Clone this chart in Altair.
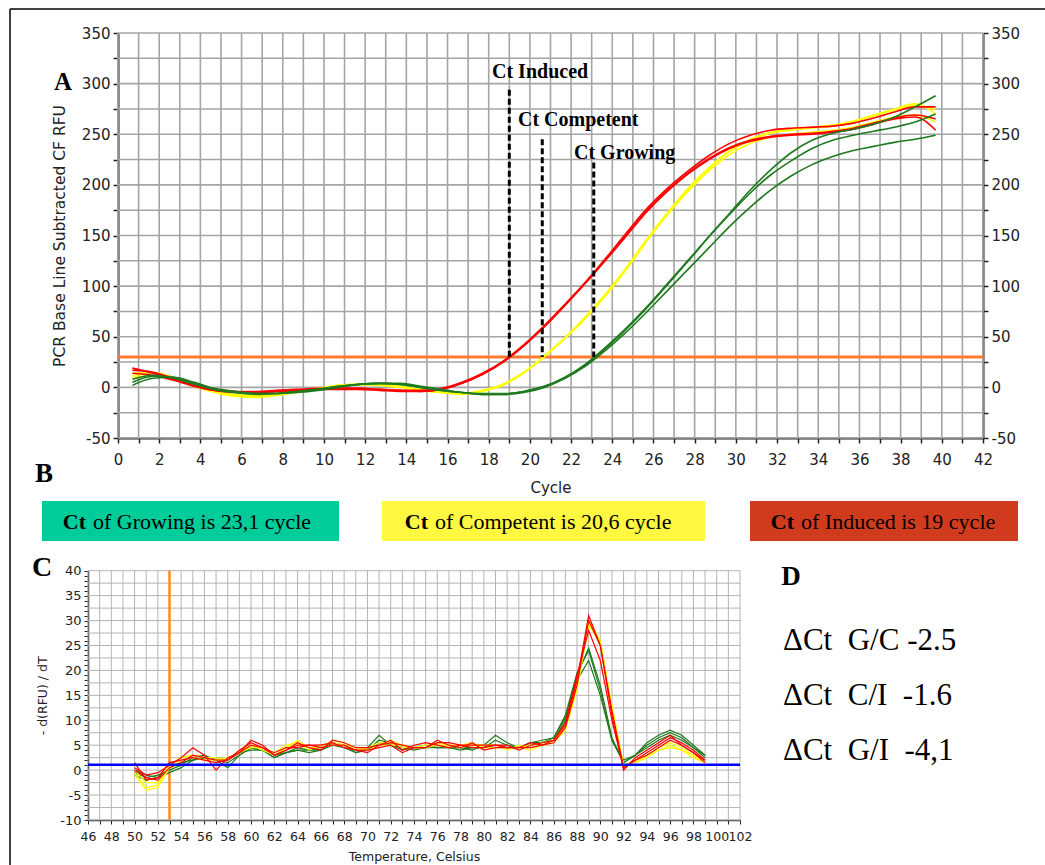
import altair as alt
import pandas as pd

# ---------------- Panel A : amplification curves ----------------
cycles = [0.7, 1.7, 2.7, 3.7, 4.7, 5.7, 6.7, 7.7, 8.7, 9.7,
          10.7, 11.7, 12.7, 13.7, 14.7, 15.7, 16.7, 17.7, 18.7, 19.7,
          20.7, 21.7, 22.7, 23.7, 24.7, 25.7, 26.7, 27.7, 28.7, 29.7,
          30.7, 31.7, 32.7, 33.7, 34.7, 35.7, 36.7, 37.7, 38.7, 39.7]

induced_1 = [19, 14, 8, 2, -3, -4, -4, -3, -2, -1, -1, -1, -2, -3, -3, -1, 5, 14, 26, 42,
             61, 82, 104, 128, 153, 177, 197, 214, 229, 241, 249, 254, 256, 257, 258, 261, 266, 272, 277, 277]
induced_2 = [14, 12, 7, 1, -3, -5, -5, -4, -3, -2, -1, -1, -2, -3, -4, -2, 4, 13, 25, 41,
             60, 81, 103, 127, 151, 175, 195, 212, 226, 237, 244, 248, 250, 251, 253, 256, 261, 266, 269, 265]
induced_3 = [17, 15, 9, 2, -2, -4, -5, -4, -3, -2, -2, -2, -3, -4, -4, -2, 4, 13, 25, 41,
             60, 81, 103, 126, 150, 174, 194, 211, 225, 236, 243, 247, 249, 250, 252, 255, 260, 265, 267, 254]

competent_1 = [12, 14, 9, 2, -4, -8, -9, -7, -4, -1, 2, 3, 3, 1, -2, -5, -6, -3, 3, 15,
               31, 49, 69, 92, 118, 146, 172, 196, 216, 233, 244, 251, 254, 256, 258, 262, 268, 274, 278, 275]
competent_2 = [10, 12, 8, 1, -5, -9, -10, -8, -5, -2, 1, 3, 3, 1, -3, -5, -7, -4, 2, 14,
               30, 48, 68, 91, 117, 145, 171, 194, 214, 230, 241, 247, 250, 252, 254, 257, 262, 267, 269, 262]
competent_3 = [14, 15, 10, 2, -4, -7, -8, -6, -4, -1, 2, 3, 2, 0, -3, -5, -6, -3, 3, 15,
               31, 49, 70, 93, 119, 147, 173, 197, 217, 234, 245, 252, 255, 257, 259, 263, 269, 275, 280, 270]

growing_1 = [2, 9, 10, 5, -1, -4, -6, -6, -5, -3, 0, 3, 4, 4, 1, -2, -5, -7, -7, -5,
             0, 9, 22, 39, 58, 79, 102, 125, 149, 172, 195, 215, 232, 244, 251, 255, 260, 267, 277, 288]
growing_2 = [5, 11, 10, 4, -2, -5, -6, -6, -4, -2, 1, 3, 4, 3, 0, -3, -5, -7, -7, -4,
             1, 10, 23, 40, 59, 80, 103, 126, 149, 171, 192, 210, 224, 236, 244, 249, 253, 257, 262, 270]
growing_3 = [8, 12, 9, 3, -2, -5, -7, -6, -4, -2, 1, 3, 4, 3, 0, -3, -5, -6, -6, -4,
             1, 9, 21, 37, 55, 75, 96, 117, 138, 159, 178, 195, 209, 220, 228, 234, 238, 242, 245, 249]

threshold_rfu = 30
ct_names = ["Ct Induced", "Ct Competent", "Ct Growing"]
ct_cycles = [19.0, 20.6, 23.1]
ct_line_tops = [294, 245, 222]
ct_label_cycles = [18.16, 19.42, 22.14]
ct_label_rfu = [311.5, 264, 231.5]

gridA_x = list(range(0, 43))
gridA_y = list(range(-50, 351, 25))

# ---------------- Panel C : melt curves ----------------
temps = list(range(50, 100))

melt_induced_1 = [0.5, -1, -0.5, 1, 2.5, 4.5, 3, 0, 2.5, 3.5, 6, 5, 3, 4, 5.5, 4.5, 4, 6, 5.5, 4.5,
                  4.5, 5, 6, 4, 5, 5.5, 5, 4.5, 5, 4.5, 4.5, 5, 5, 4, 5, 5.5, 6, 9, 18, 31,
                  25, 12, 0.5, 2, 3.5, 5, 6.5, 5.5, 4, 2]
melt_induced_2 = [1.5, -2, -1.5, 1.5, 2, 2.5, 2, 1.5, 2, 4, 5.5, 4.5, 3.5, 4.5, 4.5, 5, 4.5, 5, 5, 4,
                  4, 4.5, 5, 3.5, 4.5, 4.5, 6, 5, 4.5, 5.5, 4, 4.5, 4.5, 4.5, 4.5, 5, 5.5, 8.5, 17, 30,
                  25, 11, 0, 2.5, 4, 5.5, 7, 5, 3.5, 1.5]
melt_induced_3 = [0, -1.5, -2, 0.5, 1.5, 3, 2.5, 2, 2, 3.5, 5, 4.5, 3, 4, 5, 5, 5, 5.5, 4.5, 4,
                  3.5, 5, 5.5, 5, 4.5, 4.5, 5.5, 5.5, 5, 5, 5, 5, 4.5, 4.5, 5.5, 5, 6, 9.5, 19, 28,
                  22, 10, 0.5, 2, 3, 4.5, 6, 5, 3.5, 2]

melt_competent_1 = [-0.5, -3.5, -3, 1, 2.5, 3, 2.5, 2.5, 2, 4, 5, 4, 3, 4.5, 6, 4.5, 4.5, 6, 5.5, 4.5,
                    4, 5, 6, 5, 4.5, 5, 5, 5, 5, 5.5, 4.5, 4.5, 4.5, 4.5, 4, 5, 5.5, 8, 16, 29,
                    26, 13, 1, 1.5, 2.5, 4, 5, 4, 2.5, 1.5]
melt_competent_2 = [-1, -4, -3.5, 0.5, 2, 2.5, 2, 2, 2.5, 3.5, 4.5, 4.5, 3.5, 5, 5.5, 4, 5, 5.5, 5, 4,
                    4.5, 5.5, 5.5, 4.5, 4.5, 4.5, 5.5, 5, 4.5, 5, 5, 5, 4, 5, 4.5, 5, 6, 8.5, 17, 30,
                    26, 12, 0.5, 1.5, 3, 4.5, 5.5, 4.5, 3, 2]
melt_competent_3 = [0, -2.5, -2.5, 1, 2.5, 3, 2.5, 2, 2, 3.5, 5, 4.5, 3, 4.5, 5, 4.5, 4.5, 5, 5, 4.5,
                    4, 5, 5, 5, 4.5, 4.5, 5, 4.5, 5, 5, 4.5, 4.5, 4.5, 4.5, 5, 5.5, 6, 9, 17.5, 29.5,
                    25, 12, 1, 2, 3, 4, 4.5, 4, 3, 1.5]

melt_growing_1 = [-1, -2, -1.5, -0.5, 0.5, 2, 2.5, 2, 0.5, 3, 4.5, 4, 2.5, 3.5, 4, 3.5, 4, 5.5, 5, 3.5,
                  4.5, 7, 5, 4.5, 4.5, 4.5, 5, 4.5, 4.5, 4, 5, 7, 5.5, 4.5, 5.5, 5.5, 6.5, 10.5, 19, 24.5,
                  17, 6.5, 1.5, 3, 5.5, 7, 8, 7, 5, 3]
melt_growing_2 = [-0.5, -1.5, -1, 0, 1, 2.5, 3, 2, 1.5, 3, 4.5, 4, 3, 3.5, 4.5, 4, 4.5, 5, 4.5, 3.5,
                  4, 5.5, 5, 4, 4.5, 5, 4.5, 4.5, 4.5, 4.5, 4.5, 6, 5, 4.5, 5.5, 6, 6.5, 11, 19.5, 24,
                  16, 6, 1.5, 3, 5, 6.5, 7.5, 6.5, 4.5, 3]
melt_growing_3 = [0, -1, -1.5, 0.5, 1.5, 2, 2.5, 2.5, 2, 3.5, 4, 4, 2.5, 3.5, 4, 4, 4, 5, 5, 4,
                  4, 6, 5.5, 4.5, 4, 4.5, 4.5, 4.5, 4, 4.5, 4.5, 5, 4.5, 4.5, 5, 5.5, 6, 10, 18, 22,
                  15, 6, 2, 3, 4.5, 6, 7, 6, 4.5, 2.5]

melt_threshold = 1.1
melt_marker_temp = 53
gridC_x = list(range(46, 103))
gridC_y = [v / 2 for v in range(-20, 81, 5)]
ticksC_y = list(range(-10, 41))

# ---------------- Panel B / D texts ----------------
box_groups = ["Growing", "Competent", "Induced"]
box_ct = ["23,1", "20,6", "19"]
delta_lines = ["\u0394Ct\u00a0\u00a0G/C -2.5", "\u0394Ct\u00a0\u00a0C/I\u00a0\u00a0-1.6", "\u0394Ct\u00a0\u00a0G/I\u00a0\u00a0-4,1"]

# ---------------- layout (pixel frame) ----------------
PAD_L, PAD_T = 10, 9
W, H = 1035, 856
AXC = "#222222"
SANS = "DejaVu Sans"
SERIF = "Liberation Serif"

xA = alt.Scale(domain=[0, 42], range=[118 - PAD_L, 983 - PAD_L], nice=False, zero=False)
yA = alt.Scale(domain=[-50, 350], range=[438 - PAD_T, 33 - PAD_T], nice=False, zero=False)
xC = alt.Scale(domain=[46, 102], range=[88 - PAD_L, 740 - PAD_L], nice=False, zero=False)
yC = alt.Scale(domain=[-10, 40], range=[820 - PAD_T, 570.7 - PAD_T], nice=False, zero=False)


def long_df(xs, series, xname, yname):
    rows = []
    for name, vals in series.items():
        for x, v in zip(xs, vals):
            rows.append({xname: x, yname: v, "rep": name})
    return pd.DataFrame(rows)


amp = {
    "yellow": long_df(cycles, {"c1": competent_1, "c2": competent_2, "c3": competent_3}, "cycle", "rfu"),
    "red": long_df(cycles, {"i1": induced_1, "i2": induced_2, "i3": induced_3}, "cycle", "rfu"),
    "green": long_df(cycles, {"g1": growing_1, "g2": growing_2, "g3": growing_3}, "cycle", "rfu"),
}
melt = {
    "green": long_df(temps, {"g1": melt_growing_1, "g2": melt_growing_2, "g3": melt_growing_3}, "temp", "d"),
    "yellow": long_df(temps, {"c1": melt_competent_1, "c2": melt_competent_2, "c3": melt_competent_3}, "temp", "d"),
    "red": long_df(temps, {"i1": melt_induced_1, "i2": melt_induced_2, "i3": melt_induced_3}, "temp", "d"),
}
colors = {"red": "#ff0000", "yellow": "#ffff00", "green": "#1f7a1f"}

axis_common = dict(grid=False, domainColor=AXC, tickColor=AXC, labelColor=AXC, titleColor=AXC,
                   labelFont=SANS, titleFont=SANS, titleFontWeight="normal",
                   labelOverlap=False, labelFlush=False)

xA_axis = alt.Axis(orient="bottom", offset=(438 - PAD_T) - H, values=gridA_x,
                   labelExpr="datum.value % 2 == 0 ? toString(datum.value) : ''",
                   domainWidth=2, tickWidth=1.5, tickSize=5, labelFontSize=15, labelPadding=9,
                   title="Cycle", titleFontSize=15, titlePadding=13, **axis_common)
yA_axis = alt.Axis(orient="left", offset=-(118 - PAD_L), values=gridA_y,
                   labelExpr="datum.value % 50 == 0 ? toString(datum.value) : ''",
                   domainWidth=2, tickWidth=1.5, tickSize=5, labelFontSize=15, labelPadding=3,
                   title="PCR Base Line Subtracted CF RFU", titleFontSize=15.5, titlePadding=14,
                   **axis_common)
yA_right = alt.Axis(orient="right", offset=(983 - PAD_L) - W, values=gridA_y,
                    labelExpr="datum.value % 50 == 0 ? toString(datum.value) : ''",
                    domainWidth=2, tickWidth=1.5, tickSize=5, labelFontSize=15, labelPadding=3,
                    title=None, **axis_common)
xC_axis = alt.Axis(orient="bottom", offset=(820 - PAD_T) - H, values=gridC_x,
                   labelExpr="datum.value % 2 == 0 ? toString(datum.value) : ''",
                   domainWidth=1.5, tickWidth=1, tickSize=4, labelFontSize=12.5, labelPadding=6,
                   title="Temperature, Celsius", titleFontSize=12.5, titlePadding=8, **axis_common)
yC_axis = alt.Axis(orient="left", offset=-(88 - PAD_L), values=ticksC_y,
                   labelExpr="datum.value % 5 == 0 ? toString(datum.value) : ''",
                   domainWidth=1.5, tickWidth=1, tickSize=4, labelFontSize=13, labelPadding=3,
                   title="- d(RFU) / dT", titleFontSize=12.5, titlePadding=10, **axis_common)

# ---- panel A layers
gA_v = alt.Chart(pd.DataFrame({"c": gridA_x, "lo": -50, "hi": 350})).mark_rule(
    color="#a5a5a5", strokeWidth=1.6).encode(
    x=alt.X("c:Q", scale=xA, axis=None), y=alt.Y("lo:Q", scale=yA, axis=None), y2="hi:Q")
gA_h = alt.Chart(pd.DataFrame({"v": gridA_y, "lo": 0, "hi": 42})).mark_rule(
    color="#a5a5a5", strokeWidth=1.6).encode(
    y=alt.Y("v:Q", scale=yA, axis=None), x=alt.X("lo:Q", scale=xA, axis=None), x2="hi:Q")
thrA = alt.Chart(pd.DataFrame({"t": [threshold_rfu], "lo": [0], "hi": [42]})).mark_rule(
    color="#ff7a30", strokeWidth=3).encode(
    y=alt.Y("t:Q", scale=yA, axis=None), x=alt.X("lo:Q", scale=xA, axis=None), x2="hi:Q")

curvesA = []
for grp in ["yellow", "red", "green"]:
    curvesA.append(alt.Chart(amp[grp]).mark_line(
        color=colors[grp], strokeWidth=1.6, interpolate="monotone").encode(
        x=alt.X("cycle:Q", scale=xA, axis=None), y=alt.Y("rfu:Q", scale=yA, axis=None),
        detail="rep:N"))

ct_df = pd.DataFrame({"ct": ct_cycles, "top": ct_line_tops, "bot": threshold_rfu,
                      "name": ct_names, "lx": ct_label_cycles, "ly": ct_label_rfu})
ct_rules = alt.Chart(ct_df).mark_rule(color="black", strokeWidth=3, strokeDash=[6, 3]).encode(
    x=alt.X("ct:Q", scale=xA, axis=None), y=alt.Y("top:Q", scale=yA, axis=None), y2="bot:Q")
ct_text = alt.Chart(ct_df).mark_text(align="left", baseline="middle", font=SERIF,
                                     fontWeight="bold", fontSize=20, color="black").encode(
    x=alt.X("lx:Q", scale=xA, axis=None), y=alt.Y("ly:Q", scale=yA, axis=None), text="name:N")

panelA = alt.layer(gA_v, gA_h, thrA, *curvesA, ct_rules, ct_text)

# ---- panel C layers
gC_v = alt.Chart(pd.DataFrame({"t": gridC_x, "lo": -10, "hi": 40})).mark_rule(
    color="#b4b4b4", strokeWidth=1).encode(
    x=alt.X("t:Q", scale=xC, axis=None), y=alt.Y("lo:Q", scale=yC, axis=None), y2="hi:Q")
gC_h = alt.Chart(pd.DataFrame({"v": gridC_y, "lo": 46, "hi": 102})).mark_rule(
    color="#b4b4b4", strokeWidth=1).encode(
    y=alt.Y("v:Q", scale=yC, axis=None), x=alt.X("lo:Q", scale=xC, axis=None), x2="hi:Q")
blueC = alt.Chart(pd.DataFrame({"b": [melt_threshold], "lo": [46], "hi": [102]})).mark_rule(
    color="#0000ff", strokeWidth=2.5).encode(
    y=alt.Y("b:Q", scale=yC, axis=None), x=alt.X("lo:Q", scale=xC, axis=None), x2="hi:Q")
orangeC = alt.Chart(pd.DataFrame({"m": [melt_marker_temp], "lo": [-10], "hi": [40]})).mark_rule(
    color="#ff8a1f", strokeWidth=2.5).encode(
    x=alt.X("m:Q", scale=xC, axis=None), y=alt.Y("lo:Q", scale=yC, axis=None), y2="hi:Q")

curvesC = []
for grp in ["green", "yellow", "red"]:
    curvesC.append(alt.Chart(melt[grp]).mark_line(
        color=colors[grp], strokeWidth=1.2, interpolate="linear").encode(
        x=alt.X("temp:Q", scale=xC, axis=None), y=alt.Y("d:Q", scale=yC, axis=None),
        detail="rep:N"))

panelC = alt.layer(gC_v, gC_h, orangeC, *curvesC, blueC)


# ---- axis carriers (invisible marks that only hold an axis)
def x_axis_carrier(vals, scale, axis):
    return alt.Chart(pd.DataFrame({"v": vals})).mark_point(opacity=0).encode(
        x=alt.X("v:Q", scale=scale, axis=axis))


def y_axis_carrier(vals, scale, axis):
    return alt.Chart(pd.DataFrame({"v": vals})).mark_point(opacity=0).encode(
        y=alt.Y("v:Q", scale=scale, axis=axis))


axes_layers = [
    x_axis_carrier(gridA_x, xA, xA_axis),
    y_axis_carrier(gridA_y, yA, yA_axis),
    y_axis_carrier(gridA_y, yA, yA_right),
    x_axis_carrier(gridC_x, xC, xC_axis),
    y_axis_carrier(ticksC_y, yC, yC_axis),
]


# ---- decorations: frame, panel letters, boxes (B), text (D)
def text_at(txt, x, y, size, weight="normal", align="left", font=SERIF, color="black"):
    return alt.Chart(pd.DataFrame({"t": [txt]})).mark_text(
        align=align, baseline="middle", font=font, fontSize=size, fontWeight=weight,
        color=color).encode(x=alt.value(x - PAD_L), y=alt.value(y - PAD_T), text="t:N")


def box_at(x0, x1, y0, y1, fill):
    return alt.Chart(pd.DataFrame({"k": [0]})).mark_rect(fill=fill).encode(
        x=alt.value(x0 - PAD_L), x2=alt.value(x1 - PAD_L),
        y=alt.value(y0 - PAD_T), y2=alt.value(y1 - PAD_T))


frame = [
    alt.Chart(pd.DataFrame({"k": [0]})).mark_rule(color="black", strokeWidth=1.5).encode(
        x=alt.value(0), x2=alt.value(W + 20), y=alt.value(0)),
    alt.Chart(pd.DataFrame({"k": [0]})).mark_rule(color="black", strokeWidth=1.5).encode(
        x=alt.value(0), y=alt.value(0), y2=alt.value(H + 20)),
]

box_geom = [(42, 339, "#00cc99", 86, 93), (382, 705, "#fff740", 428, 435), (750, 1018, "#d03b1e", 794, 801)]
deco = []
for (x0, x1, fill, ct_end, rest_start), g, v in zip(box_geom, box_groups, box_ct):
    deco.append(box_at(x0, x1, 501, 541, fill))
    deco.append(text_at("Ct", ct_end, 522, 22, weight="bold", align="right"))
    deco.append(text_at(f"of {g} is {v} cycle", rest_start, 522, 22))

deco += [
    text_at("A", 63, 82, 25, weight="bold", align="center"),
    text_at("B", 44, 474, 27, weight="bold", align="center"),
    text_at("C", 42, 568, 28, weight="bold", align="center"),
    text_at("D", 791, 577, 27, weight="bold", align="center"),
]
for line, yy in zip(delta_lines, [641, 696, 751]):
    deco.append(text_at(line, 783, yy, 31))

chart = alt.layer(panelA, panelC, *axes_layers, *frame, *deco).resolve_scale(
    x="independent", y="independent"
).properties(
    width=W, height=H,
    padding={"left": PAD_L, "top": PAD_T, "right": 0, "bottom": 0},
    autosize=alt.AutoSizeParams(type="none"),
    background="white",
).configure_view(stroke=None)

chart.save("out.html", embed_options={"renderer": "svg", "actions": False})
